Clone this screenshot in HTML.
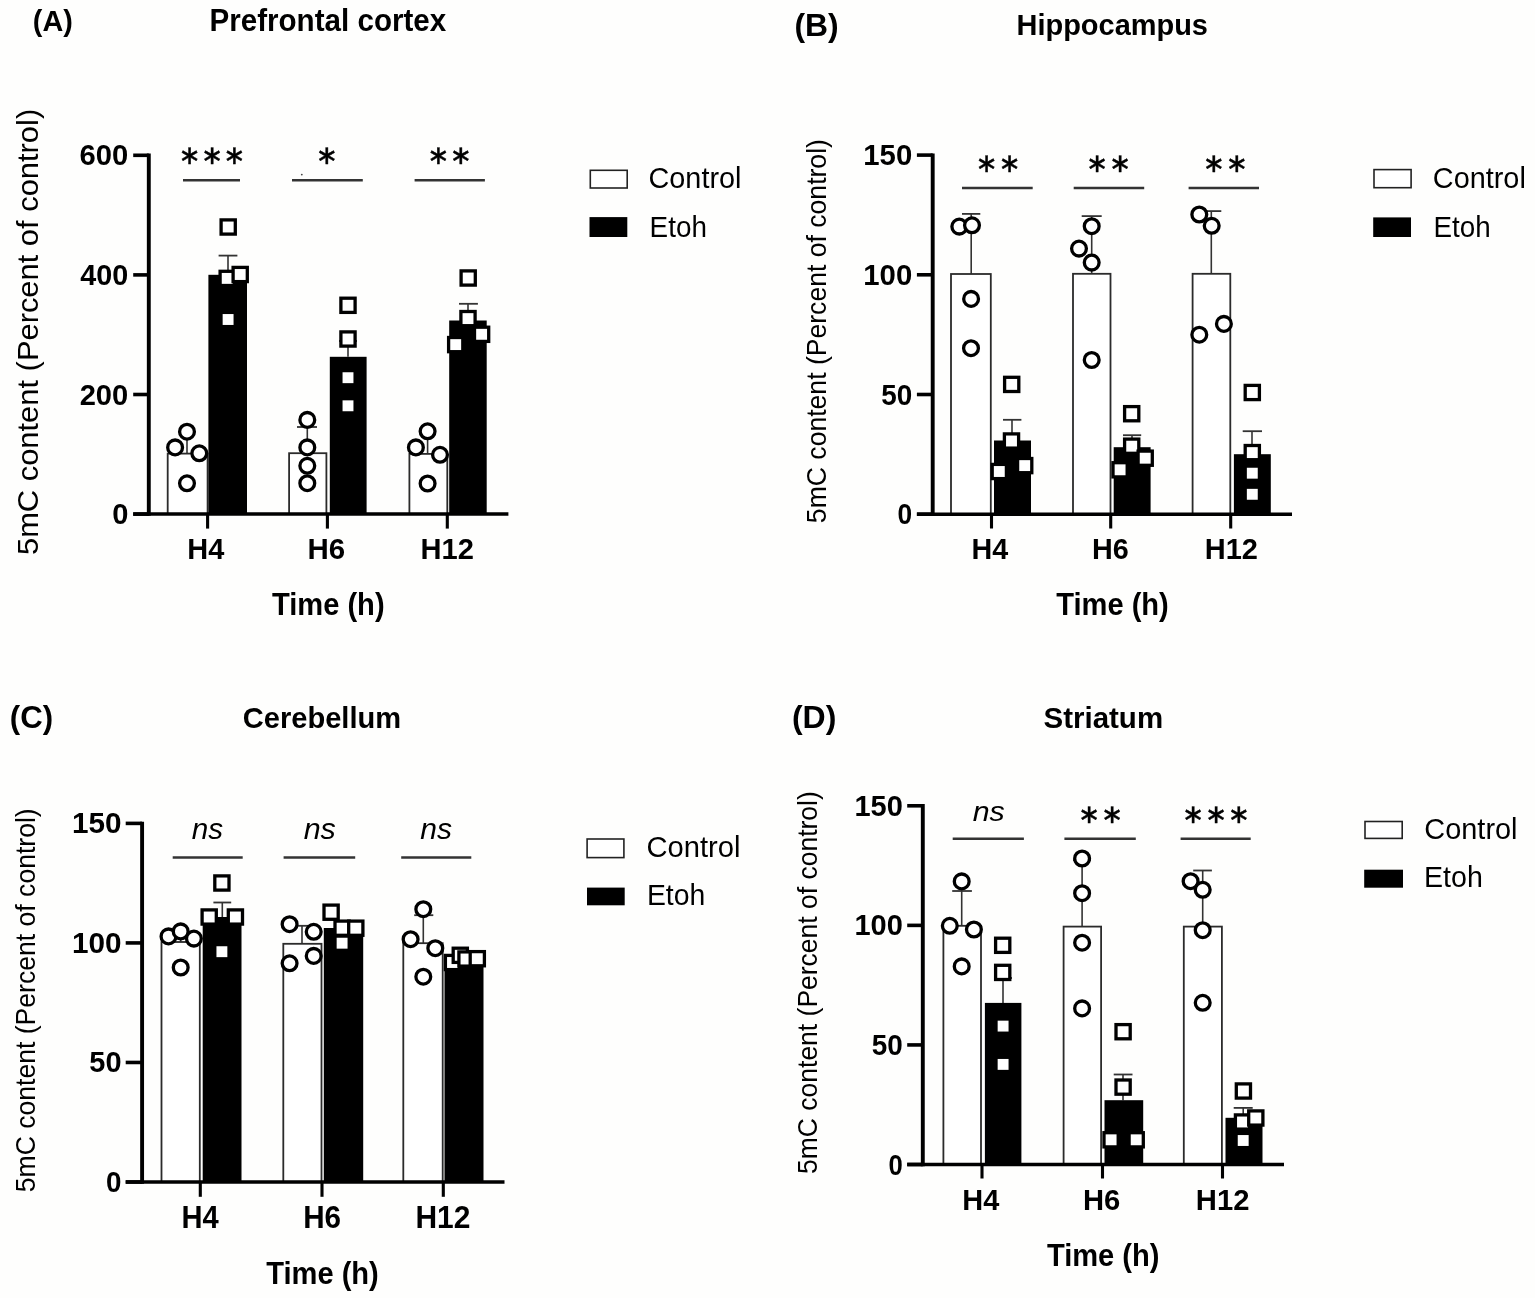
<!DOCTYPE html>
<html><head><meta charset="utf-8"><title>5mC content: prefrontal cortex, hippocampus, cerebellum, striatum</title>
<style>
html,body{margin:0;padding:0;background:#fefefd;}
body{width:1535px;height:1298px;overflow:hidden;}
svg{display:block;font-family:'Liberation Sans',Arial,Helvetica,sans-serif;}
</style></head><body>
<svg width="1535" height="1298" viewBox="0 0 1535 1298" fill="#000">
<text x="32.86" y="31.30" font-size="30" font-weight="bold" textLength="40.00" lengthAdjust="spacingAndGlyphs">(A)</text>
<text x="209.50" y="31.40" font-size="31" font-weight="bold" textLength="236.72" lengthAdjust="spacingAndGlyphs">Prefrontal cortex</text>
<text x="187.35" y="558.60" font-size="29.8" font-weight="bold" textLength="37.02" lengthAdjust="spacingAndGlyphs">H4</text>
<text x="307.51" y="558.60" font-size="29.8" font-weight="bold" textLength="37.64" lengthAdjust="spacingAndGlyphs">H6</text>
<text x="420.54" y="558.60" font-size="29.8" font-weight="bold" textLength="53.39" lengthAdjust="spacingAndGlyphs">H12</text>
<text x="272.01" y="615.00" font-size="31" font-weight="bold" textLength="112.57" lengthAdjust="spacingAndGlyphs">Time (h)</text>
<text x="648.56" y="188.00" font-size="30" textLength="92.85" lengthAdjust="spacingAndGlyphs">Control</text>
<text x="649.60" y="236.60" font-size="30" textLength="57.27" lengthAdjust="spacingAndGlyphs">Etoh</text>
<text x="79.61" y="165.32" font-size="30.3" font-weight="bold" textLength="48.69" lengthAdjust="spacingAndGlyphs">600</text>
<text x="80.27" y="284.92" font-size="30.3" font-weight="bold" textLength="48.01" lengthAdjust="spacingAndGlyphs">400</text>
<text x="79.68" y="404.52" font-size="30.3" font-weight="bold" textLength="48.61" lengthAdjust="spacingAndGlyphs">200</text>
<text x="112.14" y="524.12" font-size="30.3" font-weight="bold" textLength="16.16" lengthAdjust="spacingAndGlyphs">0</text>
<text transform="translate(38.27,553.80) rotate(-90)" x="-1.24" y="0" font-size="28.6" textLength="446.20" lengthAdjust="spacingAndGlyphs">5mC content (Percent of control)</text>
<line x1="187.00" y1="453.60" x2="187.00" y2="433.00" stroke="#333" stroke-width="1.6"/>
<line x1="179.00" y1="433.00" x2="195.00" y2="433.00" stroke="#333" stroke-width="1.8"/>
<line x1="228.00" y1="274.80" x2="228.00" y2="255.60" stroke="#333" stroke-width="1.6"/>
<line x1="218.60" y1="255.60" x2="237.40" y2="255.60" stroke="#333" stroke-width="1.8"/>
<rect x="167.70" y="453.60" width="39.90" height="60.50" fill="#fff" stroke="#2b2b2b" stroke-width="1.8"/>
<rect x="208.40" y="274.80" width="38.60" height="239.30" fill="#000"/>
<circle cx="187.0" cy="431.7" r="7.4" fill="#fff" stroke="#000" stroke-width="3.3"/>
<circle cx="175.1" cy="447.4" r="7.4" fill="#fff" stroke="#000" stroke-width="3.3"/>
<circle cx="199.3" cy="453.3" r="7.4" fill="#fff" stroke="#000" stroke-width="3.3"/>
<circle cx="187.0" cy="483.3" r="7.4" fill="#fff" stroke="#000" stroke-width="3.3"/>
<rect x="221.10" y="219.90" width="14.2" height="14.2" fill="#fff" stroke="#000" stroke-width="3.3"/>
<rect x="220.10" y="271.30" width="14.2" height="14.2" fill="#fff" stroke="#000" stroke-width="3.3"/>
<rect x="233.10" y="267.40" width="14.2" height="14.2" fill="#fff" stroke="#000" stroke-width="3.3"/>
<rect x="221.00" y="312.40" width="14.2" height="14.2" fill="#fff" stroke="#000" stroke-width="3.3"/>
<line x1="307.30" y1="453.20" x2="307.30" y2="427.00" stroke="#333" stroke-width="1.6"/>
<line x1="297.00" y1="427.00" x2="317.00" y2="427.00" stroke="#333" stroke-width="1.8"/>
<line x1="348.00" y1="356.80" x2="348.00" y2="341.00" stroke="#333" stroke-width="1.6"/>
<line x1="339.00" y1="341.00" x2="357.00" y2="341.00" stroke="#333" stroke-width="1.8"/>
<rect x="289.10" y="453.20" width="37.30" height="60.90" fill="#fff" stroke="#2b2b2b" stroke-width="1.8"/>
<rect x="329.80" y="356.80" width="36.80" height="157.30" fill="#000"/>
<circle cx="307.3" cy="419.9" r="7.4" fill="#fff" stroke="#000" stroke-width="3.3"/>
<circle cx="307.3" cy="447.4" r="7.4" fill="#fff" stroke="#000" stroke-width="3.3"/>
<circle cx="307.3" cy="465.8" r="7.4" fill="#fff" stroke="#000" stroke-width="3.3"/>
<circle cx="307.3" cy="483.2" r="7.4" fill="#fff" stroke="#000" stroke-width="3.3"/>
<rect x="340.90" y="298.20" width="14.2" height="14.2" fill="#fff" stroke="#000" stroke-width="3.3"/>
<rect x="340.90" y="331.90" width="14.2" height="14.2" fill="#fff" stroke="#000" stroke-width="3.3"/>
<rect x="340.90" y="370.60" width="14.2" height="14.2" fill="#fff" stroke="#000" stroke-width="3.3"/>
<rect x="340.90" y="398.70" width="14.2" height="14.2" fill="#fff" stroke="#000" stroke-width="3.3"/>
<line x1="427.60" y1="453.90" x2="427.60" y2="433.00" stroke="#333" stroke-width="1.6"/>
<line x1="420.00" y1="433.00" x2="435.00" y2="433.00" stroke="#333" stroke-width="1.8"/>
<line x1="468.00" y1="320.50" x2="468.00" y2="303.80" stroke="#333" stroke-width="1.6"/>
<line x1="459.00" y1="303.80" x2="477.90" y2="303.80" stroke="#333" stroke-width="1.8"/>
<rect x="409.40" y="453.90" width="37.90" height="60.20" fill="#fff" stroke="#2b2b2b" stroke-width="1.8"/>
<rect x="449.20" y="320.50" width="37.50" height="193.60" fill="#000"/>
<circle cx="427.6" cy="431.3" r="7.4" fill="#fff" stroke="#000" stroke-width="3.3"/>
<circle cx="415.9" cy="447.4" r="7.4" fill="#fff" stroke="#000" stroke-width="3.3"/>
<circle cx="440.0" cy="454.8" r="7.4" fill="#fff" stroke="#000" stroke-width="3.3"/>
<circle cx="427.6" cy="483.5" r="7.4" fill="#fff" stroke="#000" stroke-width="3.3"/>
<rect x="461.10" y="270.90" width="14.2" height="14.2" fill="#fff" stroke="#000" stroke-width="3.3"/>
<rect x="460.90" y="311.50" width="14.2" height="14.2" fill="#fff" stroke="#000" stroke-width="3.3"/>
<rect x="474.50" y="327.20" width="14.2" height="14.2" fill="#fff" stroke="#000" stroke-width="3.3"/>
<rect x="448.60" y="337.50" width="14.2" height="14.2" fill="#fff" stroke="#000" stroke-width="3.3"/>
<line x1="183.00" y1="180.30" x2="240.00" y2="180.30" stroke="#333" stroke-width="2.4"/>
<text x="189.70" y="163.88" font-family="'DejaVu Sans', sans-serif" font-size="26.5" text-anchor="middle" stroke="#000" stroke-width="0.45" stroke-linejoin="round">&#8727;</text>
<text x="212.00" y="163.88" font-family="'DejaVu Sans', sans-serif" font-size="26.5" text-anchor="middle" stroke="#000" stroke-width="0.45" stroke-linejoin="round">&#8727;</text>
<text x="234.30" y="163.88" font-family="'DejaVu Sans', sans-serif" font-size="26.5" text-anchor="middle" stroke="#000" stroke-width="0.45" stroke-linejoin="round">&#8727;</text>
<line x1="292.00" y1="180.30" x2="362.80" y2="180.30" stroke="#333" stroke-width="2.4"/>
<text x="326.80" y="163.88" font-family="'DejaVu Sans', sans-serif" font-size="26.5" text-anchor="middle" stroke="#000" stroke-width="0.45" stroke-linejoin="round">&#8727;</text>
<line x1="414.60" y1="180.30" x2="484.90" y2="180.30" stroke="#333" stroke-width="2.4"/>
<text x="438.45" y="163.88" font-family="'DejaVu Sans', sans-serif" font-size="26.5" text-anchor="middle" stroke="#000" stroke-width="0.45" stroke-linejoin="round">&#8727;</text>
<text x="460.75" y="163.88" font-family="'DejaVu Sans', sans-serif" font-size="26.5" text-anchor="middle" stroke="#000" stroke-width="0.45" stroke-linejoin="round">&#8727;</text>
<line x1="133.20" y1="514.10" x2="148.80" y2="514.10" stroke="#000" stroke-width="3.6"/>
<line x1="133.20" y1="394.50" x2="148.80" y2="394.50" stroke="#000" stroke-width="3.6"/>
<line x1="133.20" y1="274.90" x2="148.80" y2="274.90" stroke="#000" stroke-width="3.6"/>
<line x1="133.20" y1="155.30" x2="148.80" y2="155.30" stroke="#000" stroke-width="3.6"/>
<line x1="207.60" y1="514.10" x2="207.60" y2="528.60" stroke="#000" stroke-width="3.1"/>
<line x1="327.40" y1="514.10" x2="327.40" y2="528.60" stroke="#000" stroke-width="3.1"/>
<line x1="447.30" y1="514.10" x2="447.30" y2="528.60" stroke="#000" stroke-width="3.1"/>
<line x1="148.80" y1="153.60" x2="148.80" y2="515.80" stroke="#000" stroke-width="3.9"/>
<line x1="133.20" y1="514.10" x2="508.40" y2="514.10" stroke="#000" stroke-width="3.5"/>
<rect x="590.30" y="170.30" width="36.90" height="17.70" fill="#fff" stroke="#222" stroke-width="1.6"/>
<rect x="589.50" y="217.10" width="37.80" height="19.90" fill="#000"/>
<circle cx="301.8" cy="174.6" r="0.9" fill="#444"/>
<text x="794.41" y="35.60" font-size="30.5" font-weight="bold" textLength="44.21" lengthAdjust="spacingAndGlyphs">(B)</text>
<text x="1016.55" y="35.40" font-size="30" font-weight="bold" textLength="191.37" lengthAdjust="spacingAndGlyphs">Hippocampus</text>
<text x="971.56" y="558.60" font-size="29.8" font-weight="bold" textLength="36.71" lengthAdjust="spacingAndGlyphs">H4</text>
<text x="1092.06" y="558.60" font-size="29.8" font-weight="bold" textLength="36.77" lengthAdjust="spacingAndGlyphs">H6</text>
<text x="1204.84" y="558.60" font-size="29.8" font-weight="bold" textLength="53.17" lengthAdjust="spacingAndGlyphs">H12</text>
<text x="1056.21" y="615.00" font-size="31" font-weight="bold" textLength="112.57" lengthAdjust="spacingAndGlyphs">Time (h)</text>
<text x="1432.86" y="187.80" font-size="30" textLength="92.95" lengthAdjust="spacingAndGlyphs">Control</text>
<text x="1433.51" y="236.60" font-size="30" textLength="57.16" lengthAdjust="spacingAndGlyphs">Etoh</text>
<text x="863.27" y="165.12" font-size="30.3" font-weight="bold" textLength="48.94" lengthAdjust="spacingAndGlyphs">150</text>
<text x="863.27" y="284.82" font-size="30.3" font-weight="bold" textLength="48.94" lengthAdjust="spacingAndGlyphs">100</text>
<text x="881.16" y="404.52" font-size="30.3" font-weight="bold" textLength="31.02" lengthAdjust="spacingAndGlyphs">50</text>
<text x="897.45" y="524.22" font-size="30.3" font-weight="bold" textLength="14.64" lengthAdjust="spacingAndGlyphs">0</text>
<text transform="translate(826.39,522.10) rotate(-90)" x="-1.06" y="0" font-size="28" textLength="384.05" lengthAdjust="spacingAndGlyphs">5mC content (Percent of control)</text>
<line x1="971.20" y1="274.00" x2="971.20" y2="213.90" stroke="#333" stroke-width="1.6"/>
<line x1="962.00" y1="213.90" x2="980.30" y2="213.90" stroke="#333" stroke-width="1.8"/>
<line x1="1012.00" y1="440.50" x2="1012.00" y2="419.80" stroke="#333" stroke-width="1.6"/>
<line x1="1003.00" y1="419.80" x2="1021.40" y2="419.80" stroke="#333" stroke-width="1.8"/>
<rect x="951.00" y="274.00" width="39.80" height="240.20" fill="#fff" stroke="#2b2b2b" stroke-width="1.8"/>
<rect x="994.00" y="440.50" width="37.00" height="73.70" fill="#000"/>
<circle cx="959.3" cy="226.6" r="7.4" fill="#fff" stroke="#000" stroke-width="3.3"/>
<circle cx="972.0" cy="225.3" r="7.4" fill="#fff" stroke="#000" stroke-width="3.3"/>
<circle cx="971.1" cy="298.9" r="7.4" fill="#fff" stroke="#000" stroke-width="3.3"/>
<circle cx="971.0" cy="348.2" r="7.4" fill="#fff" stroke="#000" stroke-width="3.3"/>
<rect x="1004.60" y="377.30" width="14.2" height="14.2" fill="#fff" stroke="#000" stroke-width="3.3"/>
<rect x="1004.40" y="433.90" width="14.2" height="14.2" fill="#fff" stroke="#000" stroke-width="3.3"/>
<rect x="1017.60" y="458.50" width="14.2" height="14.2" fill="#fff" stroke="#000" stroke-width="3.3"/>
<rect x="992.20" y="464.40" width="14.2" height="14.2" fill="#fff" stroke="#000" stroke-width="3.3"/>
<line x1="1091.70" y1="273.80" x2="1091.70" y2="216.10" stroke="#333" stroke-width="1.6"/>
<line x1="1081.70" y1="216.10" x2="1101.70" y2="216.10" stroke="#333" stroke-width="1.8"/>
<line x1="1132.00" y1="447.20" x2="1132.00" y2="435.20" stroke="#333" stroke-width="1.6"/>
<line x1="1123.00" y1="435.20" x2="1141.20" y2="435.20" stroke="#333" stroke-width="1.8"/>
<rect x="1073.00" y="273.80" width="37.50" height="240.40" fill="#fff" stroke="#2b2b2b" stroke-width="1.8"/>
<rect x="1113.70" y="447.20" width="36.90" height="67.00" fill="#000"/>
<circle cx="1091.7" cy="226.2" r="7.4" fill="#fff" stroke="#000" stroke-width="3.3"/>
<circle cx="1079.0" cy="248.6" r="7.4" fill="#fff" stroke="#000" stroke-width="3.3"/>
<circle cx="1091.7" cy="262.6" r="7.4" fill="#fff" stroke="#000" stroke-width="3.3"/>
<circle cx="1091.7" cy="360.0" r="7.4" fill="#fff" stroke="#000" stroke-width="3.3"/>
<rect x="1124.60" y="406.60" width="14.2" height="14.2" fill="#fff" stroke="#000" stroke-width="3.3"/>
<rect x="1124.60" y="439.10" width="14.2" height="14.2" fill="#fff" stroke="#000" stroke-width="3.3"/>
<rect x="1138.10" y="451.10" width="14.2" height="14.2" fill="#fff" stroke="#000" stroke-width="3.3"/>
<rect x="1113.00" y="462.70" width="14.2" height="14.2" fill="#fff" stroke="#000" stroke-width="3.3"/>
<line x1="1211.30" y1="273.80" x2="1211.30" y2="211.10" stroke="#333" stroke-width="1.6"/>
<line x1="1201.50" y1="211.10" x2="1221.30" y2="211.10" stroke="#333" stroke-width="1.8"/>
<line x1="1252.00" y1="454.20" x2="1252.00" y2="431.20" stroke="#333" stroke-width="1.6"/>
<line x1="1242.70" y1="431.20" x2="1262.00" y2="431.20" stroke="#333" stroke-width="1.8"/>
<rect x="1192.60" y="273.80" width="37.70" height="240.40" fill="#fff" stroke="#2b2b2b" stroke-width="1.8"/>
<rect x="1233.90" y="454.20" width="36.90" height="60.00" fill="#000"/>
<circle cx="1199.3" cy="214.5" r="7.4" fill="#fff" stroke="#000" stroke-width="3.3"/>
<circle cx="1211.7" cy="225.8" r="7.4" fill="#fff" stroke="#000" stroke-width="3.3"/>
<circle cx="1223.9" cy="323.9" r="7.4" fill="#fff" stroke="#000" stroke-width="3.3"/>
<circle cx="1199.3" cy="334.7" r="7.4" fill="#fff" stroke="#000" stroke-width="3.3"/>
<rect x="1245.20" y="385.40" width="14.2" height="14.2" fill="#fff" stroke="#000" stroke-width="3.3"/>
<rect x="1245.20" y="445.50" width="14.2" height="14.2" fill="#fff" stroke="#000" stroke-width="3.3"/>
<rect x="1245.20" y="466.10" width="14.2" height="14.2" fill="#fff" stroke="#000" stroke-width="3.3"/>
<rect x="1245.20" y="487.20" width="14.2" height="14.2" fill="#fff" stroke="#000" stroke-width="3.3"/>
<line x1="962.00" y1="188.00" x2="1032.70" y2="188.00" stroke="#333" stroke-width="2.4"/>
<text x="986.70" y="172.08" font-family="'DejaVu Sans', sans-serif" font-size="26.5" text-anchor="middle" stroke="#000" stroke-width="0.45" stroke-linejoin="round">&#8727;</text>
<text x="1009.70" y="172.08" font-family="'DejaVu Sans', sans-serif" font-size="26.5" text-anchor="middle" stroke="#000" stroke-width="0.45" stroke-linejoin="round">&#8727;</text>
<line x1="1073.70" y1="188.00" x2="1144.20" y2="188.00" stroke="#333" stroke-width="2.4"/>
<text x="1097.10" y="172.08" font-family="'DejaVu Sans', sans-serif" font-size="26.5" text-anchor="middle" stroke="#000" stroke-width="0.45" stroke-linejoin="round">&#8727;</text>
<text x="1120.10" y="172.08" font-family="'DejaVu Sans', sans-serif" font-size="26.5" text-anchor="middle" stroke="#000" stroke-width="0.45" stroke-linejoin="round">&#8727;</text>
<line x1="1188.60" y1="188.00" x2="1259.00" y2="188.00" stroke="#333" stroke-width="2.4"/>
<text x="1213.80" y="172.08" font-family="'DejaVu Sans', sans-serif" font-size="26.5" text-anchor="middle" stroke="#000" stroke-width="0.45" stroke-linejoin="round">&#8727;</text>
<text x="1236.80" y="172.08" font-family="'DejaVu Sans', sans-serif" font-size="26.5" text-anchor="middle" stroke="#000" stroke-width="0.45" stroke-linejoin="round">&#8727;</text>
<line x1="916.90" y1="514.20" x2="932.70" y2="514.20" stroke="#000" stroke-width="3.6"/>
<line x1="916.90" y1="394.50" x2="932.70" y2="394.50" stroke="#000" stroke-width="3.6"/>
<line x1="916.90" y1="274.80" x2="932.70" y2="274.80" stroke="#000" stroke-width="3.6"/>
<line x1="916.90" y1="155.10" x2="932.70" y2="155.10" stroke="#000" stroke-width="3.6"/>
<line x1="991.50" y1="514.20" x2="991.50" y2="528.50" stroke="#000" stroke-width="3.1"/>
<line x1="1110.70" y1="514.20" x2="1110.70" y2="528.50" stroke="#000" stroke-width="3.1"/>
<line x1="1230.70" y1="514.20" x2="1230.70" y2="528.50" stroke="#000" stroke-width="3.1"/>
<line x1="932.70" y1="153.50" x2="932.70" y2="515.90" stroke="#000" stroke-width="3.9"/>
<line x1="916.90" y1="514.20" x2="1292.00" y2="514.20" stroke="#000" stroke-width="3.5"/>
<rect x="1374.00" y="169.60" width="37.10" height="18.10" fill="#fff" stroke="#222" stroke-width="1.6"/>
<rect x="1373.20" y="217.40" width="37.80" height="19.60" fill="#000"/>
<text x="9.84" y="728.20" font-size="30.5" font-weight="bold" textLength="43.24" lengthAdjust="spacingAndGlyphs">(C)</text>
<text x="242.84" y="728.20" font-size="29.5" font-weight="bold" textLength="158.25" lengthAdjust="spacingAndGlyphs">Cerebellum</text>
<text x="181.53" y="1228.20" font-size="30.8" font-weight="bold" textLength="37.24" lengthAdjust="spacingAndGlyphs">H4</text>
<text x="303.20" y="1228.20" font-size="30.8" font-weight="bold" textLength="37.86" lengthAdjust="spacingAndGlyphs">H6</text>
<text x="415.48" y="1228.20" font-size="30.8" font-weight="bold" textLength="54.98" lengthAdjust="spacingAndGlyphs">H12</text>
<text x="266.21" y="1284.30" font-size="31" font-weight="bold" textLength="112.57" lengthAdjust="spacingAndGlyphs">Time (h)</text>
<text x="646.54" y="856.70" font-size="30" textLength="93.99" lengthAdjust="spacingAndGlyphs">Control</text>
<text x="646.96" y="904.90" font-size="30" textLength="58.35" lengthAdjust="spacingAndGlyphs">Etoh</text>
<text x="191.68" y="838.70" font-size="29" font-style="italic" textLength="31.35" lengthAdjust="spacingAndGlyphs">ns</text>
<text x="303.67" y="838.70" font-size="29" font-style="italic" textLength="32.18" lengthAdjust="spacingAndGlyphs">ns</text>
<text x="420.27" y="838.70" font-size="29" font-style="italic" textLength="31.76" lengthAdjust="spacingAndGlyphs">ns</text>
<text x="71.94" y="833.42" font-size="30.3" font-weight="bold" textLength="49.58" lengthAdjust="spacingAndGlyphs">150</text>
<text x="71.94" y="952.95" font-size="30.3" font-weight="bold" textLength="49.58" lengthAdjust="spacingAndGlyphs">100</text>
<text x="89.33" y="1072.49" font-size="30.3" font-weight="bold" textLength="32.19" lengthAdjust="spacingAndGlyphs">50</text>
<text x="105.99" y="1192.02" font-size="30.3" font-weight="bold" textLength="15.46" lengthAdjust="spacingAndGlyphs">0</text>
<text transform="translate(34.89,1191.20) rotate(-90)" x="-1.06" y="0" font-size="28" textLength="383.95" lengthAdjust="spacingAndGlyphs">5mC content (Percent of control)</text>
<line x1="180.70" y1="942.00" x2="180.70" y2="934.00" stroke="#333" stroke-width="1.6"/>
<line x1="172.00" y1="934.00" x2="190.00" y2="934.00" stroke="#333" stroke-width="1.8"/>
<line x1="222.30" y1="917.00" x2="222.30" y2="902.50" stroke="#333" stroke-width="1.6"/>
<line x1="213.40" y1="902.50" x2="231.20" y2="902.50" stroke="#333" stroke-width="1.8"/>
<rect x="161.50" y="942.00" width="38.30" height="240.00" fill="#fff" stroke="#2b2b2b" stroke-width="1.8"/>
<rect x="202.70" y="917.00" width="38.80" height="265.00" fill="#000"/>
<circle cx="168.5" cy="936.4" r="7.4" fill="#fff" stroke="#000" stroke-width="3.3"/>
<circle cx="180.7" cy="931.4" r="7.4" fill="#fff" stroke="#000" stroke-width="3.3"/>
<circle cx="193.9" cy="938.6" r="7.4" fill="#fff" stroke="#000" stroke-width="3.3"/>
<circle cx="180.7" cy="967.5" r="7.4" fill="#fff" stroke="#000" stroke-width="3.3"/>
<rect x="214.80" y="875.90" width="14.2" height="14.2" fill="#fff" stroke="#000" stroke-width="3.3"/>
<rect x="202.10" y="909.90" width="14.2" height="14.2" fill="#fff" stroke="#000" stroke-width="3.3"/>
<rect x="228.30" y="909.90" width="14.2" height="14.2" fill="#fff" stroke="#000" stroke-width="3.3"/>
<rect x="214.80" y="944.60" width="14.2" height="14.2" fill="#fff" stroke="#000" stroke-width="3.3"/>
<line x1="302.00" y1="943.80" x2="302.00" y2="925.80" stroke="#333" stroke-width="1.6"/>
<line x1="293.00" y1="925.80" x2="311.00" y2="925.80" stroke="#333" stroke-width="1.8"/>
<line x1="342.50" y1="928.00" x2="342.50" y2="922.00" stroke="#333" stroke-width="1.6"/>
<line x1="336.00" y1="922.00" x2="349.00" y2="922.00" stroke="#333" stroke-width="1.8"/>
<rect x="283.30" y="943.80" width="38.20" height="238.20" fill="#fff" stroke="#2b2b2b" stroke-width="1.8"/>
<rect x="323.80" y="928.00" width="39.40" height="254.00" fill="#000"/>
<circle cx="289.6" cy="924.2" r="7.4" fill="#fff" stroke="#000" stroke-width="3.3"/>
<circle cx="313.7" cy="931.8" r="7.4" fill="#fff" stroke="#000" stroke-width="3.3"/>
<circle cx="313.7" cy="955.9" r="7.4" fill="#fff" stroke="#000" stroke-width="3.3"/>
<circle cx="289.6" cy="963.3" r="7.4" fill="#fff" stroke="#000" stroke-width="3.3"/>
<rect x="324.00" y="905.10" width="14.2" height="14.2" fill="#fff" stroke="#000" stroke-width="3.3"/>
<rect x="335.00" y="921.10" width="14.2" height="14.2" fill="#fff" stroke="#000" stroke-width="3.3"/>
<rect x="348.70" y="921.10" width="14.2" height="14.2" fill="#fff" stroke="#000" stroke-width="3.3"/>
<rect x="335.00" y="936.10" width="14.2" height="14.2" fill="#fff" stroke="#000" stroke-width="3.3"/>
<line x1="423.30" y1="943.20" x2="423.30" y2="915.20" stroke="#333" stroke-width="1.6"/>
<line x1="414.20" y1="915.20" x2="433.30" y2="915.20" stroke="#333" stroke-width="1.8"/>
<line x1="464.00" y1="958.50" x2="464.00" y2="952.00" stroke="#333" stroke-width="1.6"/>
<line x1="455.00" y1="952.00" x2="473.00" y2="952.00" stroke="#333" stroke-width="1.8"/>
<rect x="403.30" y="943.20" width="39.40" height="238.80" fill="#fff" stroke="#2b2b2b" stroke-width="1.8"/>
<rect x="444.50" y="958.50" width="39.00" height="223.50" fill="#000"/>
<circle cx="423.3" cy="909.2" r="7.4" fill="#fff" stroke="#000" stroke-width="3.3"/>
<circle cx="410.6" cy="939.2" r="7.4" fill="#fff" stroke="#000" stroke-width="3.3"/>
<circle cx="435.3" cy="948.2" r="7.4" fill="#fff" stroke="#000" stroke-width="3.3"/>
<circle cx="423.3" cy="976.7" r="7.4" fill="#fff" stroke="#000" stroke-width="3.3"/>
<rect x="445.40" y="955.40" width="14.2" height="14.2" fill="#fff" stroke="#000" stroke-width="3.3"/>
<rect x="453.20" y="948.20" width="14.2" height="14.2" fill="#fff" stroke="#000" stroke-width="3.3"/>
<rect x="458.90" y="951.90" width="14.2" height="14.2" fill="#fff" stroke="#000" stroke-width="3.3"/>
<rect x="470.20" y="951.60" width="14.2" height="14.2" fill="#fff" stroke="#000" stroke-width="3.3"/>
<line x1="172.70" y1="857.50" x2="242.70" y2="857.50" stroke="#333" stroke-width="2.4"/>
<line x1="283.60" y1="857.50" x2="355.20" y2="857.50" stroke="#333" stroke-width="2.4"/>
<line x1="401.20" y1="857.50" x2="471.30" y2="857.50" stroke="#333" stroke-width="2.4"/>
<line x1="125.70" y1="1182.00" x2="142.10" y2="1182.00" stroke="#000" stroke-width="3.6"/>
<line x1="125.70" y1="1062.46" x2="142.10" y2="1062.46" stroke="#000" stroke-width="3.6"/>
<line x1="125.70" y1="942.93" x2="142.10" y2="942.93" stroke="#000" stroke-width="3.6"/>
<line x1="125.70" y1="823.39" x2="142.10" y2="823.39" stroke="#000" stroke-width="3.6"/>
<line x1="200.30" y1="1182.00" x2="200.30" y2="1196.80" stroke="#000" stroke-width="3.1"/>
<line x1="322.00" y1="1182.00" x2="322.00" y2="1196.80" stroke="#000" stroke-width="3.1"/>
<line x1="443.30" y1="1182.00" x2="443.30" y2="1196.80" stroke="#000" stroke-width="3.1"/>
<line x1="142.10" y1="821.70" x2="142.10" y2="1183.70" stroke="#000" stroke-width="3.9"/>
<line x1="125.70" y1="1182.00" x2="504.50" y2="1182.00" stroke="#000" stroke-width="3.5"/>
<rect x="587.10" y="839.00" width="36.80" height="18.60" fill="#fff" stroke="#222" stroke-width="1.6"/>
<rect x="587.00" y="887.60" width="37.70" height="17.70" fill="#000"/>
<text x="791.90" y="728.20" font-size="30.5" font-weight="bold" textLength="44.42" lengthAdjust="spacingAndGlyphs">(D)</text>
<text x="1043.52" y="728.20" font-size="29.5" font-weight="bold" textLength="119.59" lengthAdjust="spacingAndGlyphs">Striatum</text>
<text x="962.25" y="1209.80" font-size="29.8" font-weight="bold" textLength="37.02" lengthAdjust="spacingAndGlyphs">H4</text>
<text x="1083.03" y="1209.80" font-size="29.8" font-weight="bold" textLength="37.32" lengthAdjust="spacingAndGlyphs">H6</text>
<text x="1195.83" y="1209.80" font-size="29.8" font-weight="bold" textLength="53.60" lengthAdjust="spacingAndGlyphs">H12</text>
<text x="1046.91" y="1265.80" font-size="31" font-weight="bold" textLength="112.57" lengthAdjust="spacingAndGlyphs">Time (h)</text>
<text x="1424.36" y="838.80" font-size="30" textLength="93.16" lengthAdjust="spacingAndGlyphs">Control</text>
<text x="1424.04" y="887.30" font-size="30" textLength="58.78" lengthAdjust="spacingAndGlyphs">Etoh</text>
<text x="972.67" y="820.60" font-size="28.5" font-style="italic" textLength="32.07" lengthAdjust="spacingAndGlyphs">ns</text>
<text x="854.49" y="815.83" font-size="30.3" font-weight="bold" textLength="48.40" lengthAdjust="spacingAndGlyphs">150</text>
<text x="854.49" y="935.39" font-size="30.3" font-weight="bold" textLength="48.40" lengthAdjust="spacingAndGlyphs">100</text>
<text x="871.86" y="1054.96" font-size="30.3" font-weight="bold" textLength="31.02" lengthAdjust="spacingAndGlyphs">50</text>
<text x="888.47" y="1174.52" font-size="30.3" font-weight="bold" textLength="14.28" lengthAdjust="spacingAndGlyphs">0</text>
<text transform="translate(817.09,1172.90) rotate(-90)" x="-1.06" y="0" font-size="28" textLength="382.74" lengthAdjust="spacingAndGlyphs">5mC content (Percent of control)</text>
<line x1="961.70" y1="925.80" x2="961.70" y2="891.00" stroke="#333" stroke-width="1.6"/>
<line x1="952.20" y1="891.00" x2="971.90" y2="891.00" stroke="#333" stroke-width="1.8"/>
<line x1="1003.00" y1="1002.90" x2="1003.00" y2="978.00" stroke="#333" stroke-width="1.6"/>
<line x1="994.00" y1="978.00" x2="1012.00" y2="978.00" stroke="#333" stroke-width="1.8"/>
<rect x="943.40" y="925.80" width="37.60" height="238.70" fill="#fff" stroke="#2b2b2b" stroke-width="1.8"/>
<rect x="984.90" y="1002.90" width="36.50" height="161.60" fill="#000"/>
<circle cx="961.7" cy="881.4" r="7.4" fill="#fff" stroke="#000" stroke-width="3.3"/>
<circle cx="949.8" cy="925.8" r="7.4" fill="#fff" stroke="#000" stroke-width="3.3"/>
<circle cx="973.9" cy="929.5" r="7.4" fill="#fff" stroke="#000" stroke-width="3.3"/>
<circle cx="961.7" cy="966.4" r="7.4" fill="#fff" stroke="#000" stroke-width="3.3"/>
<rect x="995.60" y="938.20" width="14.2" height="14.2" fill="#fff" stroke="#000" stroke-width="3.3"/>
<rect x="995.60" y="965.30" width="14.2" height="14.2" fill="#fff" stroke="#000" stroke-width="3.3"/>
<rect x="996.00" y="1019.00" width="14.2" height="14.2" fill="#fff" stroke="#000" stroke-width="3.3"/>
<rect x="996.00" y="1057.30" width="14.2" height="14.2" fill="#fff" stroke="#000" stroke-width="3.3"/>
<line x1="1082.10" y1="926.60" x2="1082.10" y2="860.10" stroke="#333" stroke-width="1.6"/>
<line x1="1073.00" y1="860.10" x2="1091.00" y2="860.10" stroke="#333" stroke-width="1.8"/>
<line x1="1123.00" y1="1100.20" x2="1123.00" y2="1074.50" stroke="#333" stroke-width="1.6"/>
<line x1="1113.70" y1="1074.50" x2="1132.50" y2="1074.50" stroke="#333" stroke-width="1.8"/>
<rect x="1063.60" y="926.60" width="37.50" height="237.90" fill="#fff" stroke="#2b2b2b" stroke-width="1.8"/>
<rect x="1104.50" y="1100.20" width="38.70" height="64.30" fill="#000"/>
<circle cx="1082.1" cy="858.5" r="7.4" fill="#fff" stroke="#000" stroke-width="3.3"/>
<circle cx="1082.1" cy="893.2" r="7.4" fill="#fff" stroke="#000" stroke-width="3.3"/>
<circle cx="1082.1" cy="942.7" r="7.4" fill="#fff" stroke="#000" stroke-width="3.3"/>
<circle cx="1082.1" cy="1008.4" r="7.4" fill="#fff" stroke="#000" stroke-width="3.3"/>
<rect x="1116.00" y="1024.60" width="14.2" height="14.2" fill="#fff" stroke="#000" stroke-width="3.3"/>
<rect x="1116.00" y="1080.00" width="14.2" height="14.2" fill="#fff" stroke="#000" stroke-width="3.3"/>
<rect x="1104.00" y="1132.70" width="14.2" height="14.2" fill="#fff" stroke="#000" stroke-width="3.3"/>
<rect x="1129.10" y="1132.70" width="14.2" height="14.2" fill="#fff" stroke="#000" stroke-width="3.3"/>
<line x1="1202.70" y1="926.60" x2="1202.70" y2="870.50" stroke="#333" stroke-width="1.6"/>
<line x1="1193.20" y1="870.50" x2="1211.90" y2="870.50" stroke="#333" stroke-width="1.8"/>
<line x1="1243.20" y1="1117.80" x2="1243.20" y2="1107.90" stroke="#333" stroke-width="1.6"/>
<line x1="1233.70" y1="1107.90" x2="1252.70" y2="1107.90" stroke="#333" stroke-width="1.8"/>
<rect x="1183.80" y="926.60" width="38.10" height="237.90" fill="#fff" stroke="#2b2b2b" stroke-width="1.8"/>
<rect x="1225.50" y="1117.80" width="37.00" height="46.70" fill="#000"/>
<circle cx="1190.6" cy="881.2" r="7.4" fill="#fff" stroke="#000" stroke-width="3.3"/>
<circle cx="1202.7" cy="889.8" r="7.4" fill="#fff" stroke="#000" stroke-width="3.3"/>
<circle cx="1202.7" cy="930.2" r="7.4" fill="#fff" stroke="#000" stroke-width="3.3"/>
<circle cx="1202.7" cy="1002.8" r="7.4" fill="#fff" stroke="#000" stroke-width="3.3"/>
<rect x="1236.30" y="1083.90" width="14.2" height="14.2" fill="#fff" stroke="#000" stroke-width="3.3"/>
<rect x="1235.40" y="1114.90" width="14.2" height="14.2" fill="#fff" stroke="#000" stroke-width="3.3"/>
<rect x="1248.70" y="1110.90" width="14.2" height="14.2" fill="#fff" stroke="#000" stroke-width="3.3"/>
<rect x="1236.10" y="1133.40" width="14.2" height="14.2" fill="#fff" stroke="#000" stroke-width="3.3"/>
<line x1="952.70" y1="838.80" x2="1023.90" y2="838.80" stroke="#333" stroke-width="2.4"/>
<line x1="1064.40" y1="838.80" x2="1135.80" y2="838.80" stroke="#333" stroke-width="2.4"/>
<text x="1089.15" y="822.98" font-family="'DejaVu Sans', sans-serif" font-size="26.5" text-anchor="middle" stroke="#000" stroke-width="0.45" stroke-linejoin="round">&#8727;</text>
<text x="1112.05" y="822.98" font-family="'DejaVu Sans', sans-serif" font-size="26.5" text-anchor="middle" stroke="#000" stroke-width="0.45" stroke-linejoin="round">&#8727;</text>
<line x1="1180.60" y1="838.80" x2="1250.70" y2="838.80" stroke="#333" stroke-width="2.4"/>
<text x="1193.10" y="822.98" font-family="'DejaVu Sans', sans-serif" font-size="26.5" text-anchor="middle" stroke="#000" stroke-width="0.45" stroke-linejoin="round">&#8727;</text>
<text x="1216.00" y="822.98" font-family="'DejaVu Sans', sans-serif" font-size="26.5" text-anchor="middle" stroke="#000" stroke-width="0.45" stroke-linejoin="round">&#8727;</text>
<text x="1238.90" y="822.98" font-family="'DejaVu Sans', sans-serif" font-size="26.5" text-anchor="middle" stroke="#000" stroke-width="0.45" stroke-linejoin="round">&#8727;</text>
<line x1="907.20" y1="1164.50" x2="922.80" y2="1164.50" stroke="#000" stroke-width="3.6"/>
<line x1="907.20" y1="1044.93" x2="922.80" y2="1044.93" stroke="#000" stroke-width="3.6"/>
<line x1="907.20" y1="925.37" x2="922.80" y2="925.37" stroke="#000" stroke-width="3.6"/>
<line x1="907.20" y1="805.80" x2="922.80" y2="805.80" stroke="#000" stroke-width="3.6"/>
<line x1="982.00" y1="1164.50" x2="982.00" y2="1178.50" stroke="#000" stroke-width="3.1"/>
<line x1="1102.50" y1="1164.50" x2="1102.50" y2="1178.50" stroke="#000" stroke-width="3.1"/>
<line x1="1222.50" y1="1164.50" x2="1222.50" y2="1178.50" stroke="#000" stroke-width="3.1"/>
<line x1="922.80" y1="804.00" x2="922.80" y2="1166.20" stroke="#000" stroke-width="3.9"/>
<line x1="907.20" y1="1164.50" x2="1284.00" y2="1164.50" stroke="#000" stroke-width="3.5"/>
<rect x="1365.00" y="821.50" width="37.20" height="16.90" fill="#fff" stroke="#222" stroke-width="1.6"/>
<rect x="1364.20" y="869.70" width="38.80" height="18.00" fill="#000"/>
</svg>
</body></html>
